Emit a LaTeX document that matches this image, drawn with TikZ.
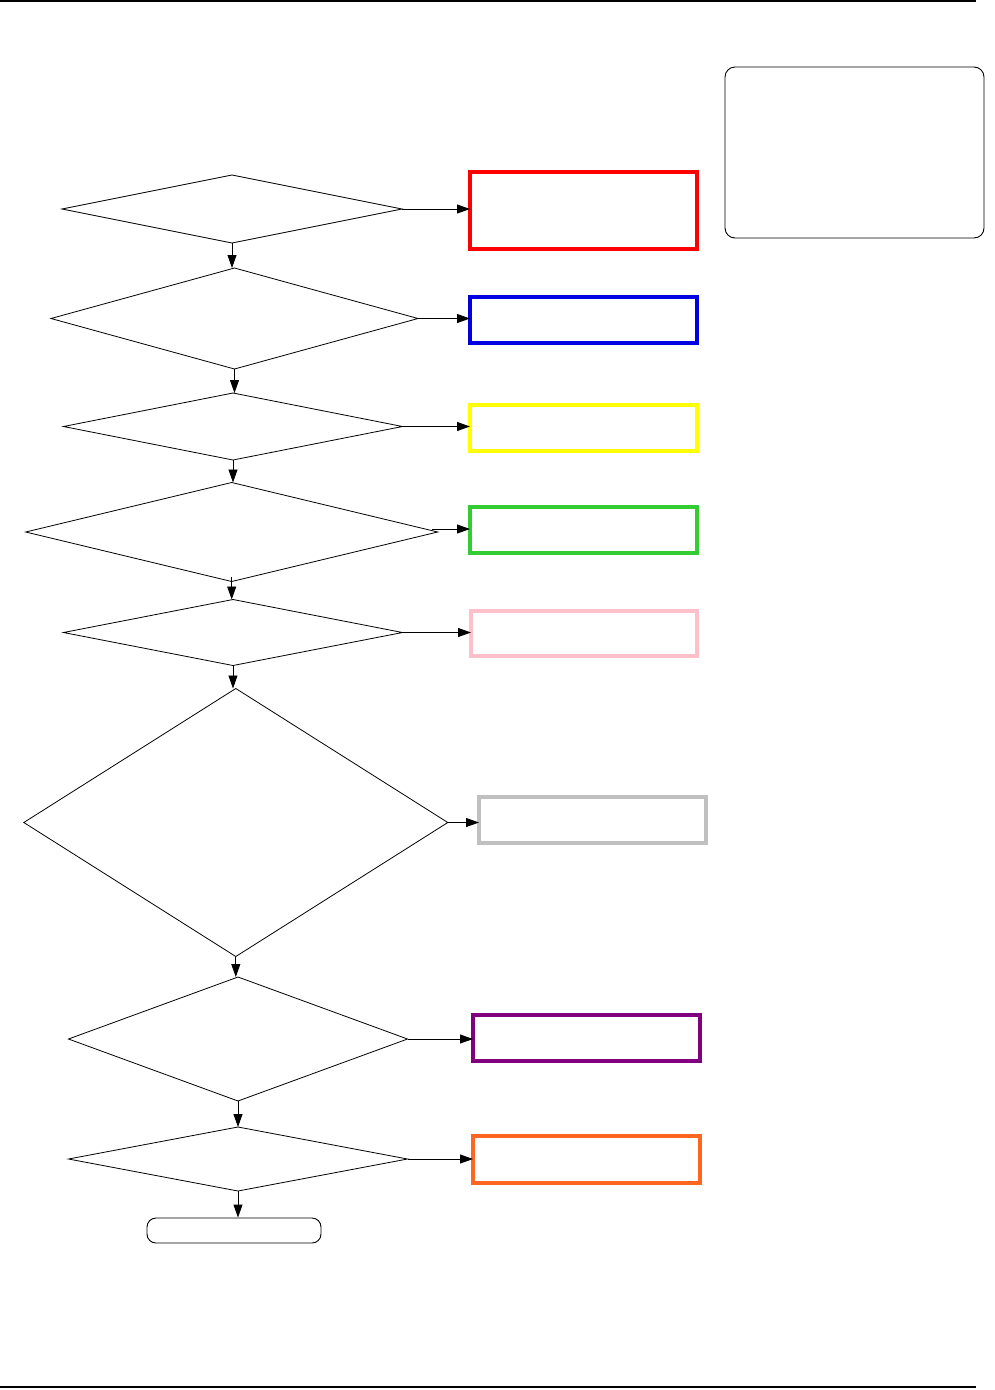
\documentclass[tikz,border=0pt]{standalone}
\usetikzlibrary{shapes.geometric,arrows.meta}
\definecolor{cred}{RGB}{255,0,0}
\definecolor{cblue}{RGB}{0,0,225}
\definecolor{cyellow}{RGB}{255,255,0}
\definecolor{cgreen}{RGB}{51,204,51}
\definecolor{cpink}{RGB}{255,192,203}
\definecolor{cgray}{RGB}{192,192,192}
\definecolor{cpurple}{RGB}{128,0,128}
\definecolor{corange}{RGB}{255,102,34}
\tikzset{
  dec/.style={diamond,draw=black,line width=0.8pt,inner sep=0pt,outer sep=0pt},
  outbox/.style={rectangle,draw=#1,line width=3.2pt,inner sep=0pt,outer sep=0pt,minimum width=227pt,minimum height=46pt},
  conn/.style={line width=0.9pt,-{Triangle[length=13pt,width=9pt]}},
  rule/.style={line width=1.5pt}
}
\begin{document}
\begin{tikzpicture}[x=1pt,y=-1pt]
\useasboundingbox (0,0) rectangle (995,1390);
% page rules
\coordinate (tl) at (0,1);
\coordinate (tr) at (976,1);
\coordinate (bl) at (0,1387);
\coordinate (br) at (976,1387);
\draw[rule] (tl) -- (tr);
\draw[rule] (bl) -- (br);
% legend box
\node[draw,line width=0.9pt,rounded corners=10pt,minimum width=259pt,minimum height=171pt,inner sep=0pt] (legend) at (854.5,152.5) {};
% decisions
\node[dec,minimum width=340pt,minimum height=68pt] (d1) at (232,209) {};
\node[dec,minimum width=367pt,minimum height=101pt] (d2) at (234.5,318.5) {};
\node[dec,minimum width=339pt,minimum height=67pt] (d3) at (233,426.5) {};
\node[dec,minimum width=412pt,minimum height=99pt] (d4) at (231.7,532) {};
\node[dec,minimum width=339pt,minimum height=66pt] (d5) at (233,632.5) {};
\node[dec,minimum width=424pt,minimum height=268pt] (d6) at (235.8,822.5) {};
\node[dec,minimum width=339pt,minimum height=124pt] (d7) at (238,1039) {};
\node[dec,minimum width=339pt,minimum height=64pt] (d8) at (238,1159) {};
% terminal
\node[draw,line width=0.9pt,rounded corners=9pt,minimum width=174pt,minimum height=25pt,inner sep=0pt] (term) at (234,1230.5) {};
% outcome boxes
\node[outbox=cred,minimum height=77pt] (b1) at (583.5,210.5) {};
\node[outbox=cblue] (b2) at (583.5,320) {};
\node[outbox=cyellow] (b3) at (583.5,428) {};
\node[outbox=cgreen] (b4) at (583.5,530) {};
\node[outbox=cpink,minimum width=226pt,minimum height=45pt] (b5) at (584,633.5) {};
\node[outbox=cgray] (b6) at (592.5,820) {};
\node[outbox=cpurple] (b7) at (586.5,1038) {};
\node[outbox=corange,minimum height=47pt] (b8) at (586.5,1159.5) {};
% vertical flow
\draw[conn] (d1.south) -- (d1.south |- d2.north);
\draw[conn] (d2.south) -- (d2.south |- d3.north);
\draw[conn] (d3.south) -- (d3.south |- d4.north);
\draw[conn] ([yshift=5pt]d4.south) -- (d4.south |- d5.north);
\draw[conn] (d5.south) -- (d5.south |- d6.north);
\draw[conn] (d6.south) -- (d6.south |- d7.north);
\draw[conn] (d7.south) -- (d7.south |- d8.north);
\draw[conn] (d8.south) -- (d8.south |- term.north);
% side exits
\draw[conn] (d1.east) -- (d1.east -| b1.west);
\draw[conn] (d2.east) -- (d2.east -| b2.west);
\draw[conn] (d3.east) -- (d3.east -| b3.west);
\coordinate (d4x) at ([xshift=-6pt,yshift=3pt]d4.east);
\draw[conn] (d4x) -- (d4x -| b4.west);
\draw[conn] (d5.east) -- (d5.east -| b5.west);
\draw[conn] (d6.east) -- (d6.east -| b6.west);
\draw[conn] (d7.east) -- (d7.east -| b7.west);
\draw[conn] (d8.east) -- (d8.east -| b8.west);
\end{tikzpicture}
\end{document}
